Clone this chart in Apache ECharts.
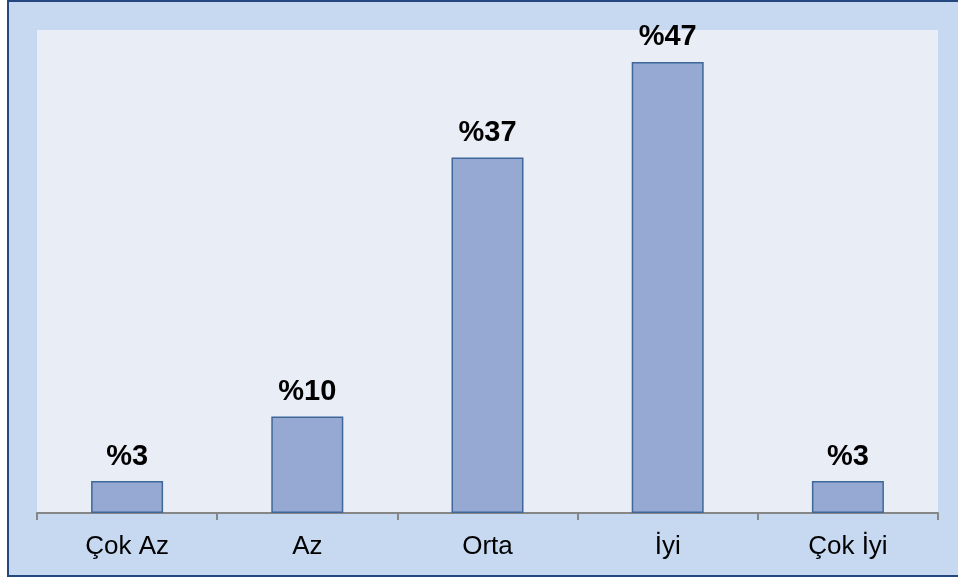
<!DOCTYPE html>
<html>
<head>
<meta charset="UTF-8">
<style>
	html, body { margin: 0; padding: 0; background: #fff; }
	#main { width: 958px; height: 580px; }
</style>
</head>
<body>
	<div id="main"></div>
	<script src="https://cdn.jsdelivr.net/npm/echarts@6/dist/echarts.min.js"></script>
<script>
	var categories = ['Çok Az', 'Az', 'Orta', 'İyi', 'Çok İyi'];
	var values = [3.3, 10, 36.8, 46.7, 3.3];
	var labels = ['%3', '%10', '%37', '%47', '%3'];

	var chart = echarts.init(document.getElementById('main'));
	chart.setOption({
		backgroundColor : '#fff',
		animation : false,
		graphic : [ {
			type : 'rect',
			z : -10,
			shape : { x : 8, y : 1, width : 960, height : 575 },
			style : { fill : '#C6D9F1', stroke : '#24477F', lineWidth : 2 }
		} ],
		grid : {
			left : 37,
			right : 20,
			top : 30,
			bottom : 67,
			show : true,
			backgroundColor : '#E8EDF6',
			borderWidth : 0
		},
		xAxis : {
			type : 'category',
			data : categories,
			axisLine : { lineStyle : { color : '#868686', width : 2 } },
			axisTick : { show : true, alignWithLabel : false, length : 7, lineStyle : { color : '#868686', width : 2 } },
			axisLabel : {
				margin : 21,
				fontFamily : 'Liberation Sans',
				fontSize : 26,
				color : '#000'
			}
		},
		yAxis : {
			type : 'value',
			min : 0,
			max : 50,
			show : false
		},
		series : [ {
			type : 'bar',
			data : values,
			barWidth : 72,
			itemStyle : {
				color : '#95A9D2',
				borderColor : '#3F679A',
				borderWidth : 1.5
			},
			label : {
				show : true,
				position : 'top',
				distance : 10,
				fontFamily : 'Liberation Sans',
				fontWeight : 'bold',
				fontSize : 29,
				color : '#000',
				formatter : function (p) {
					return labels[p.dataIndex];
				}
			}
		} ]
	});
</script>
</body>
</html>
